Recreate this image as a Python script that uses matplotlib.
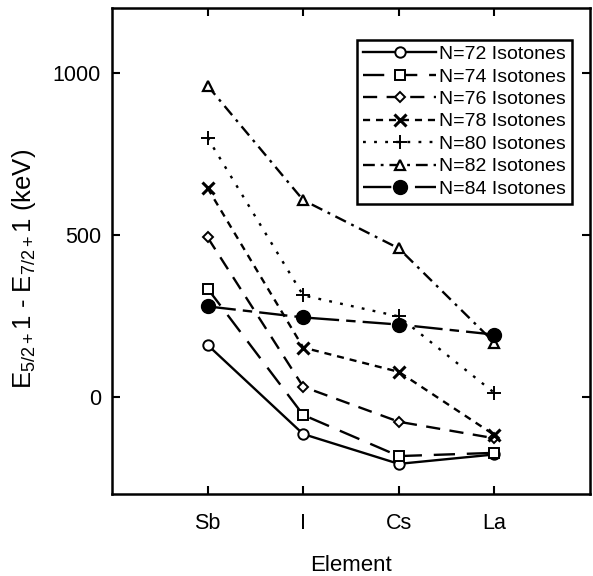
import matplotlib
matplotlib.use("Agg")
import matplotlib.pyplot as plt

plt.rcParams['font.family'] = ['Liberation Sans', 'DejaVu Sans']
plt.rcParams['mathtext.fontset'] = 'custom'
plt.rcParams['mathtext.rm'] = 'Liberation Sans'
plt.rcParams['mathtext.it'] = 'Liberation Sans:italic'

elements = ["Sb", "I", "Cs", "La"]
x_pos = [1, 2, 3, 4]

n72 = [160, -115, -207, -178]
n74 = [334, -56, -183, -173]
n76 = [492, 31, -77, -128]
n78 = [644, 152, 77, -118]
n80 = [799, 313, 248, 12]
n82 = [960, 607, 458, 167]
n84 = [279, 245, 223, 192]

labels = ["N=72 Isotones", "N=74 Isotones", "N=76 Isotones", "N=78 Isotones",
          "N=80 Isotones", "N=82 Isotones", "N=84 Isotones"]

fig = plt.figure(figsize=(5.93, 5.76), dpi=100)
ax = fig.add_axes([112/593, 1-494/576, (590-112)/593, (494-8)/576])

lw = 1.7
ax.plot(x_pos, n72, color='black', lw=lw, ls='-', marker='o', ms=7.5,
        mfc='white', mec='black', mew=1.4, label=labels[0])
ax.plot(x_pos, n74, color='black', lw=lw, ls=(0, (9, 5)), marker='s', ms=7.5,
        mfc='white', mec='black', mew=1.4, label=labels[1])
ax.plot(x_pos, n76, color='black', lw=lw, ls=(0, (6, 4)), marker='D', ms=5.5,
        mfc='white', mec='black', mew=1.4, label=labels[2])
ax.plot(x_pos, n78, color='black', lw=lw, ls=(0, (3, 2.5)), marker='x', ms=9,
        mec='black', mew=2.2, label=labels[3])
ax.plot(x_pos, n80, color='black', lw=lw, ls=(0, (1.2, 3.5)), marker='+', ms=10,
        mec='black', mew=1.4, label=labels[4])
ax.plot(x_pos, n82, color='black', lw=lw, ls=(0, (5, 2.5, 1.2, 2.5)), marker='^', ms=7.5,
        mfc='white', mec='black', mew=1.6, label=labels[5])
ax.plot(x_pos, n84, color='black', lw=lw, ls=(0, (12, 3, 4, 3)), marker='o', ms=10,
        mfc='black', mec='black', label=labels[6])

ax.set_xlim(0, 5)
ax.set_ylim(-300, 1200)
ax.set_xticks(x_pos)
ax.set_xticklabels(elements)
ax.set_yticks([0, 500, 1000])
ax.tick_params(direction='in', top=True, right=True, length=6, width=1.5,
               labelsize=15.5)
ax.tick_params(axis='x', pad=14)
ax.tick_params(axis='y', pad=8)
for s in ax.spines.values():
    s.set_linewidth(1.8)

ax.set_xlabel("Element", fontsize=16, labelpad=15)
ax.set_ylabel(r"E$_{5/2+}$1 - E$_{7/2+}$1 (keV)", fontsize=18.5)
ax.yaxis.set_label_coords(-0.155, 0.462)

leg = ax.legend(loc='upper right', bbox_to_anchor=(0.962, 0.935), fontsize=14,
                frameon=True, fancybox=False, edgecolor='black', framealpha=1,
                handlelength=3.75, handletextpad=0.15, labelspacing=0.25,
                borderpad=0.3, borderaxespad=0.0, numpoints=1)
leg.get_frame().set_linewidth(1.8)

fig.savefig("out.png", dpi=100)
